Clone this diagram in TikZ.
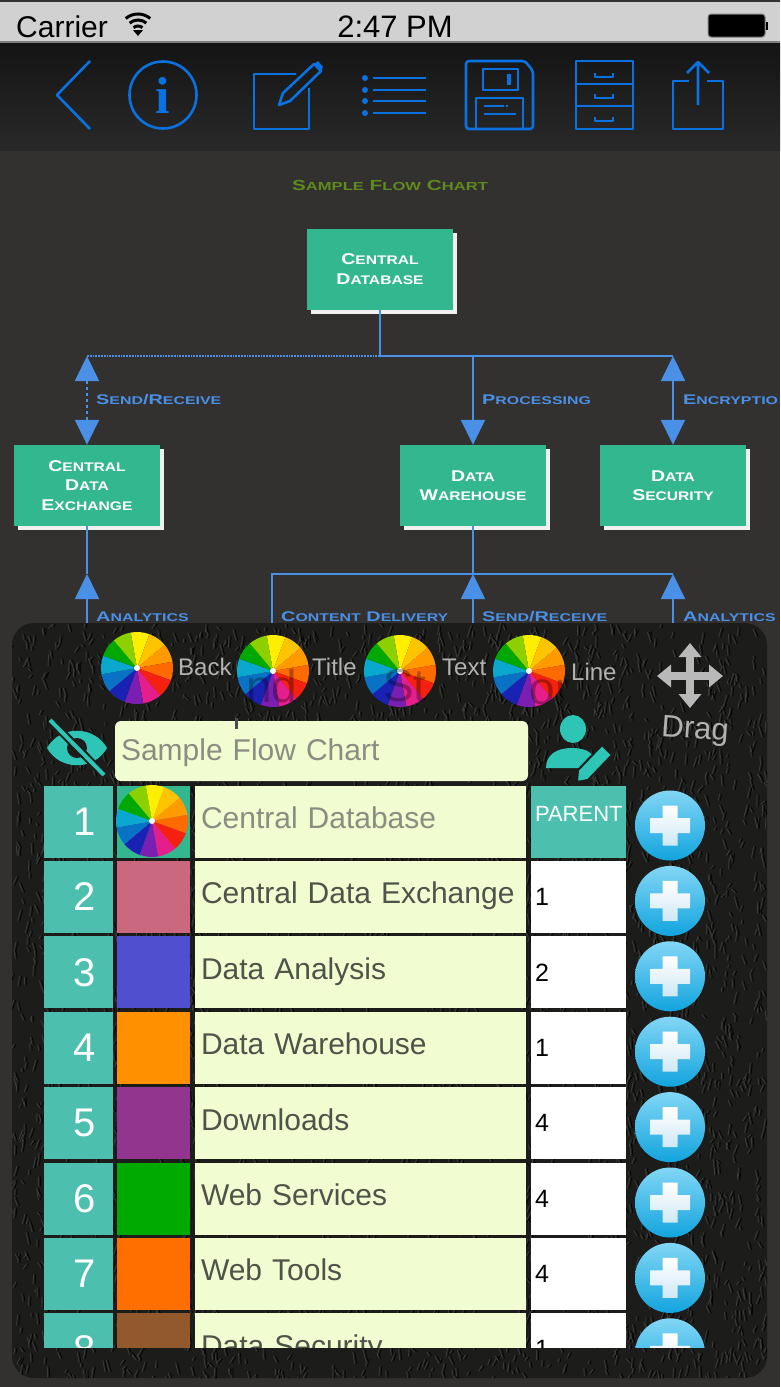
\documentclass[tikz,border=0pt]{standalone}
\usepackage{fontspec}
\setmainfont{Liberation Sans}
\newfontfamily\copperfont[FakeStretch=1.25]{Liberation Sans}
\newfontfamily\copperwide[FakeStretch=1.42]{Liberation Sans}
\usetikzlibrary{arrows.meta,shadows}
\definecolor{canvasbg}{HTML}{333130}
\definecolor{panelbg}{HTML}{1C1C1A}
\definecolor{toolblue}{HTML}{0A72E0}
\definecolor{flowblue}{HTML}{4A90E6}
\definecolor{boxgreen}{HTML}{33B78F}
\definecolor{tealcell}{HTML}{4DBFAE}
\definecolor{iconteal}{HTML}{2EC4B6}
\definecolor{paleyellow}{HTML}{F1FCD0}
\definecolor{hintgray}{HTML}{8B8D82}
\definecolor{rowgray}{HTML}{50534A}
\definecolor{titlegreen}{HTML}{5F8A1E}
\definecolor{plustop}{HTML}{82D6F5}
\definecolor{plusbot}{HTML}{12A4DE}
\definecolor{crossbot}{HTML}{CFE8F5}
\definecolor{wa}{HTML}{FFEE00}
\definecolor{wb}{HTML}{FFC400}
\definecolor{wc}{HTML}{FF9A00}
\definecolor{wd}{HTML}{FF6A00}
\definecolor{we}{HTML}{F52010}
\definecolor{wf}{HTML}{E51E8C}
\definecolor{wg}{HTML}{7B1FB2}
\definecolor{wh}{HTML}{1A22B4}
\definecolor{wi}{HTML}{0A72C4}
\definecolor{wj}{HTML}{0AA8CE}
\definecolor{wk}{HTML}{00A800}
\definecolor{wl}{HTML}{8CD000}
\newcommand{\lc}[1]{\scalebox{.8}{#1}}
\tikzset{
  toolicon/.style={draw=toolblue,line width=2.6pt,line join=round},
  chartbox/.style={fill=boxgreen,text=white,minimum width=146pt,minimum height=81pt,inner sep=0pt,align=center,
    drop shadow={shadow xshift=4pt,shadow yshift=-4pt,fill=white!88!gray,opacity=1},
    font=\bfseries\copperfont\fontsize{15.6}{19.5}\selectfont},
  flowline/.style={draw=flowblue,line width=1.8pt},
  flowtip/.style={{Triangle[width=24pt,length=25pt]}-{Triangle[width=24pt,length=25pt]}},
  uptip/.style={-{Triangle[width=24pt,length=25pt]}},
  flowlabel/.style={text=flowblue,anchor=west,inner sep=0pt,font=\bfseries\copperwide\fontsize{14}{16}\selectfont},
  numcell/.style={fill=tealcell,text=white,minimum width=69pt,minimum height=72pt,inner sep=0pt,font=\fontsize{40}{42}\selectfont},
  swatchcell/.style={minimum width=73pt,minimum height=72pt,inner sep=0pt},
  namecell/.style={fill=paleyellow,text=rowgray,minimum width=331pt,minimum height=72pt,text width=319pt,inner xsep=6pt,inner ysep=0pt,
    align=left,text height=20pt,text depth=6pt,font=\fontsize{30}{32}\selectfont},
  parentcell/.style={fill=white,text=black,minimum width=95pt,minimum height=72pt,text width=87pt,inner xsep=4pt,inner ysep=0pt,
    align=left,font=\fontsize{25}{28}\selectfont},
  wheellabel/.style={text=white!40!gray,inner sep=0pt,font=\fontsize{24}{26}\selectfont},
  ghostword/.style={text=black,opacity=.3,inner sep=0pt,font=\fontsize{46}{48}\selectfont},
  dragarrow/.style={draw=white!45!gray,line width=8pt,{Triangle[width=22pt,length=14pt]}-{Triangle[width=22pt,length=14pt]}},
  colorwheel/.pic={
    \foreach \wcol [count=\k from 0] in {wa,wb,wc,wd,we,wf,wg,wh,wi,wj,wk,wl}{
      \fill[\wcol] (0,0) -- (-100+\k*30:36) arc[start angle=-100+\k*30,end angle=-70+\k*30,radius=36] -- cycle;
    }
    \fill[white] (0,0) circle (3);
  },
  plusbutton/.pic={
    \shade[top color=plustop,bottom color=plusbot] (0,0) circle (35);
    \shade[top color=white,bottom color=crossbot] (-7.5,-20) rectangle (7.5,20) (-20,-7.5) rectangle (20,7.5);
  }
}
\begin{document}
\begin{tikzpicture}[x=1pt,y=-1pt,>=stealth]
\useasboundingbox (0,0) rectangle (780,1387);
\fill[canvasbg] (0,0) rectangle (780,1387);
% status bar
\fill[white!82!black] (0,0) rectangle (780,42);
\fill[canvasbg] (0,0) rectangle (780,2);
\fill[gray] (0,41) rectangle (780,43);
\node[anchor=west,inner sep=0pt,font=\fontsize{30}{32}\selectfont] (carrier) at (16,27) {Carrier};
\foreach \r in {7,13,19}{
  \draw[line width=3pt] (138,33) ++(-130:\r) arc[start angle=-130,end angle=-50,radius=\r];
}
\fill (138,36) -- (133,30) -- (143,30) -- cycle;
\node[inner sep=0pt,font=\fontsize{31}{33}\selectfont] (clock) at (395,27) {2:47 PM};
\fill[black,draw=gray,line width=1pt,rounded corners=3pt] (708,14) rectangle (765,37);
\fill[black] (766,22) rectangle (768,30);
% tool bar
\shade[top color=black!92!white,bottom color=black!84!white] (0,43) rectangle (780,150);
\draw[toolicon] (90,61) -- (57,95) -- (90,129);
\draw[toolicon] (163,95) circle (33.5);
\node[text=toolblue,inner sep=0pt,font=\bfseries\fontsize{52}{54}\selectfont] (infomark) at (163,95) {\fontspec{Liberation Serif}i};
\draw[toolicon] (296,74) -- (254,74) -- (254,129) -- (309,129) -- (309,88);
\draw[toolicon] (279,105) -- (283,93) -- (314,64) -- (321,71) -- (290,101) -- cycle;
\fill[toolblue] (314,64) -- (318,61) -- (323,67) -- (321,71) -- cycle;
\foreach \ly in {78,90,101,113}{
  \fill[toolblue] (365,\ly) circle (3);
  \draw[toolicon] (373,\ly) -- (426,\ly);
}
\draw[toolicon,rounded corners=3pt] (466,61) -- (525,61) -- (533,71) -- (533,129) -- (466,129) -- cycle;
\draw[toolicon] (483,69) rectangle (518,90);
\draw[toolicon,line width=3.5pt] (509,74) -- (509,85);
\draw[toolicon] (476,129) -- (476,98) -- (523,98) -- (523,129);
\draw[toolicon] (484,106) -- (504,106) (506,106) -- (508,106) (484,114) -- (516,114);
\draw[toolicon] (576,61) rectangle (633,129) (576,84) -- (633,84) (576,106) -- (633,106);
\foreach \hy in {73,94,117}{
  \draw[toolicon] (595,\hy) -- (595,\hy+4) -- (613,\hy+4) -- (613,\hy);
}
\draw[toolicon] (689,81) -- (673,81) -- (673,129) -- (723,129) -- (723,81) -- (707,81);
\draw[toolicon] (698,105) -- (698,62) (687,73) -- (698,62) -- (709,73);
% flow chart
\node[text=titlegreen,inner sep=0pt,font=\bfseries\copperwide\fontsize{14.6}{16}\selectfont] (charttitle) at (390,185) {S\lc{AMPLE} F\lc{LOW} C\lc{HART}};
\node[chartbox] (centraldb) at (380,269) {C\lc{ENTRAL}\\D\lc{ATABASE}};
\node[chartbox] (exchange) at (87,485.5) {C\lc{ENTRAL}\\D\lc{ATA}\\E\lc{XCHANGE}};
\node[chartbox] (warehouse) at (473,485.5) {D\lc{ATA}\\W\lc{AREHOUSE}};
\node[chartbox] (security) at (673,485.5) {D\lc{ATA}\\S\lc{ECURITY}};
\coordinate (topjoin) at (380,356);
\coordinate (topleft) at (exchange.north |- topjoin);
\coordinate (topmid) at (warehouse.north |- topjoin);
\coordinate (topright) at (security.north |- topjoin);
\coordinate (lowjoin) at (473,574);
\coordinate (lowleft) at (272,574);
\coordinate (lowright) at (673,574);
\coordinate (lowexch) at (87,574);
\coordinate (belowleft) at (272,630);
\coordinate (belowmid) at (473,630);
\coordinate (belowright) at (673,630);
\coordinate (belowexch) at (87,630);
\draw[flowline] (centraldb.south) -- (topjoin) -- (topright);
\draw[flowline,densely dotted] (topjoin) -- (topleft);
\draw[flowline,dashed,flowtip] (topleft) -- (exchange.north);
\draw[flowline,uptip] (topmid) -- (warehouse.north);
\draw[flowline,flowtip] (topright) -- (security.north);
\draw[flowline] (warehouse.south) -- (lowjoin);
\draw[flowline] (belowleft) -- (lowleft) -- (lowright);
\draw[flowline,uptip] (belowmid) -- (lowjoin);
\draw[flowline,uptip] (belowright) -- (lowright);
\draw[flowline] (exchange.south) -- (lowexch);
\draw[flowline,uptip] (belowexch) -- (lowexch);
\node[flowlabel] (lbsend) at (96,399.5) {S\lc{END}/R\lc{ECEIVE}};
\node[flowlabel] (lbproc) at (482,399.5) {P\lc{ROCESSING}};
\node[flowlabel] (lbencr) at (683,399.5) {E\lc{NCRYPTIO}};
\node[flowlabel] (lbanalyt) at (96,617) {A\lc{NALYTICS}};
\node[flowlabel] (lbcontent) at (281,617) {C\lc{ONTENT} D\lc{ELIVERY}};
\node[flowlabel] (lbsendb) at (482,617) {S\lc{END}/R\lc{ECEIVE}};
\node[flowlabel] (lbanalytb) at (683,617) {A\lc{NALYTICS}};
% leather panel
\fill[panelbg,rounded corners=22pt] (12,623) rectangle (767,1378);
\begin{scope}
\clip[rounded corners=22pt] (12,623) rectangle (767,1378);
\pgfmathsetseed{7}
\foreach \n in {1,...,5000}{
  \pgfmathsetmacro\tx{12+rnd*755}
  \pgfmathsetmacro\ty{623+rnd*755}
  \pgfmathsetmacro\dx{rnd*8-4}
  \pgfmathsetmacro\dy{rnd*9+3}
  \draw[white!13!panelbg,line width=.9pt] (\tx,\ty) -- ++(\dx,\dy);
  \draw[black!80!panelbg,line width=.9pt] (\tx+2,\ty) -- ++(\dx,\dy);
}
\end{scope}
% colour pickers
\pic at (137,668) {colorwheel};
\pic at (273,671) {colorwheel};
\pic at (400,671) {colorwheel};
\pic at (529,671) {colorwheel};
\node[wheellabel,anchor=west] (lbback) at (178,667) {Back};
\node[wheellabel,anchor=west] (lbtitle) at (312,667) {Title};
\node[wheellabel,anchor=west] (lbtext) at (442,667) {Text};
\node[wheellabel,anchor=west] (lbline) at (571,672) {Line};
\node[ghostword] (ghosta) at (272,686) {nd};
\node[ghostword] (ghostb) at (405,686) {St};
\node[ghostword] (ghostc) at (550,692) {or};
% drag
\draw[dragarrow] (657,676) -- (723,676);
\draw[dragarrow] (690,643) -- (690,708);
\node[text=white!40!gray,inner sep=0pt,rotate=-4,font=\fontsize{31}{33}\selectfont] (lbdrag) at (695,731) {Drag};
% title field and its icons
\node[fill=paleyellow,rounded corners=6pt,minimum width=413pt,minimum height=60pt,text width=401pt,inner xsep=6pt,inner ysep=0pt,align=left,
  text=hintgray,text height=25pt,text depth=6pt,font=\fontsize{30}{32}\selectfont] (titlefield) at (321.5,751) {Sample Flow Chart};
\fill[black!70!white] (235,718) rectangle (238,729);
\fill[iconteal] (47,748) .. controls (60,725) and (94,725) .. (107,748) .. controls (94,771) and (60,771) .. (47,748) -- cycle;
\fill[panelbg] (77,748) circle (10);
\draw[panelbg,line width=8pt] (52,722) -- (106,777);
\draw[iconteal,line width=4pt] (50,720) -- (104,775);
\fill[iconteal] (573,729) ellipse (13 and 14);
\fill[iconteal] (546,768) .. controls (546,755) and (556,748) .. (572,748) .. controls (582,748) and (590,751) .. (592,755) -- (582,768) -- cycle;
\filldraw[fill=iconteal,draw=panelbg,line width=2pt] (577,782) -- (578,770) -- (602,745) -- (612,755) -- (588,780) -- cycle;
% rows
\begin{scope}
\clip (0,0) rectangle (780,1347);
\node[numcell] (num1) at (78.5,821.5) {\hspace{12pt}1};
\node[swatchcell,fill=boxgreen] (swatch1) at (153.5,821.5) {};
\pic at (152,821) {colorwheel};
\node[namecell,text=hintgray] (name1) at (360.5,821.5) {Central Database};
\node[parentcell,fill=tealcell,text=white,align=center,text depth=15pt,font=\fontsize{22}{26}\selectfont] (parent1) at (578.5,821.5) {PARENT};
\pic at (670,825.5) {plusbutton};
\foreach \num/\swatchcol/\rowname/\parentno in {
  2/C9687F/Central Data Exchange/1,
  3/4F4FCF/Data Analysis/2,
  4/FF9000/Data Warehouse/1,
  5/92358F/Downloads/4,
  6/00AA00/Web Services/4,
  7/FF6F00/Web Tools/4,
  8/925A2C/Data Security/1}{
  \pgfmathsetmacro\rowy{821.5+(\num-1)*75.4}
  \definecolor{swatchnow}{HTML}{\swatchcol}
  \node[numcell] (num\num) at (78.5,\rowy) {\hspace{12pt}\num};
  \node[swatchcell,fill=swatchnow] (swatch\num) at (153.5,\rowy) {};
  \node[namecell] (name\num) at (360.5,\rowy) {\rowname};
  \node[parentcell] (parent\num) at (578.5,\rowy) {\parentno};
  \pic at (670,\rowy+4) {plusbutton};
}
\end{scope}
\end{tikzpicture}
\end{document}
